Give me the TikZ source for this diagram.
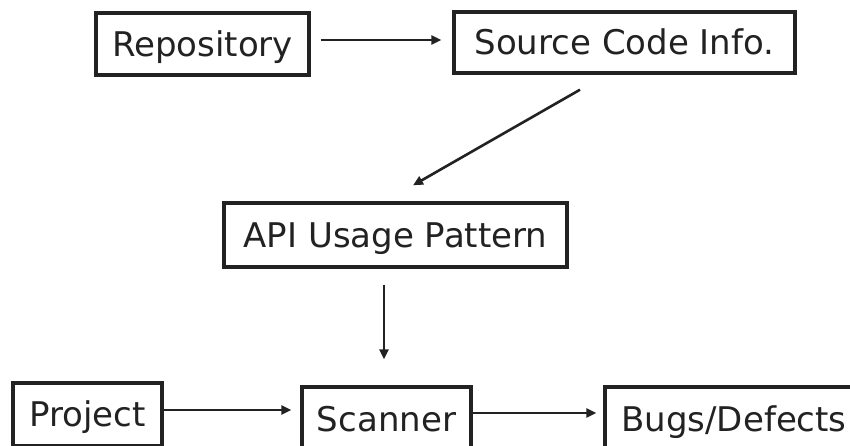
\documentclass[tikz,border=0pt]{standalone}
\usepackage{fontspec}
\setmainfont{DejaVu Sans}
\usetikzlibrary{arrows.meta,calc}
\definecolor{ink}{HTML}{222222}
\begin{document}
\begin{tikzpicture}[x=1pt,y=-1pt,
  blk/.style={draw=ink,line width=3.4pt,rectangle,inner sep=0pt,anchor=center,
    text=ink,font=\fontsize{34}{40}\selectfont,text height=24.8pt,text depth=0pt},
  flow/.style={draw=ink,line width=2.6pt,-{Triangle[length=10pt,width=9pt]}}]
\useasboundingbox (0,0) rectangle (850,445);
\clip (0,0) rectangle (850,445);
\fill[white] (0,0) rectangle (850,445);

% boxes
\node[blk,minimum width=213pt,minimum height=62pt] (repo) at (202.5,44) {Repository};
\node[blk,minimum width=341pt,minimum height=61pt] (src)  at (624.5,42.5) {Source Code Info.};
\node[blk,minimum width=343pt,minimum height=64pt] (api)  at (395.5,235) {API Usage Pattern};
\node[blk,minimum width=149pt,minimum height=63pt] (proj) at (87.5,414.5) {Project};
\node[blk,minimum width=169pt,minimum height=64pt] (scan) at (386.5,419) {Scanner};
\node[blk,minimum width=258pt,minimum height=64pt] (bugs) at (734,419) {Bugs/Defects};

% connectors
\draw[flow,shorten <=10pt,shorten >=11pt] ([yshift=4pt]repo.east) -- ([yshift=4pt]repo.east -| src.west);
\draw[flow] ($(src.south)+(-44.5,15)$) -- ($(api.north)+(17.5,-16)$);
\draw[flow] ($(api.south)+(-11.5,16)$) -- ($(api.south |- scan.north)+(-11.5,-26)$);
\draw[flow,shorten >=9pt] ([yshift=4.5pt]proj.east) -- ([yshift=4.5pt]proj.east -| scan.west);
\draw[flow,shorten >=7pt] ([yshift=6pt]scan.east) -- ([yshift=6pt]scan.east -| bugs.west);
\end{tikzpicture}
\end{document}
